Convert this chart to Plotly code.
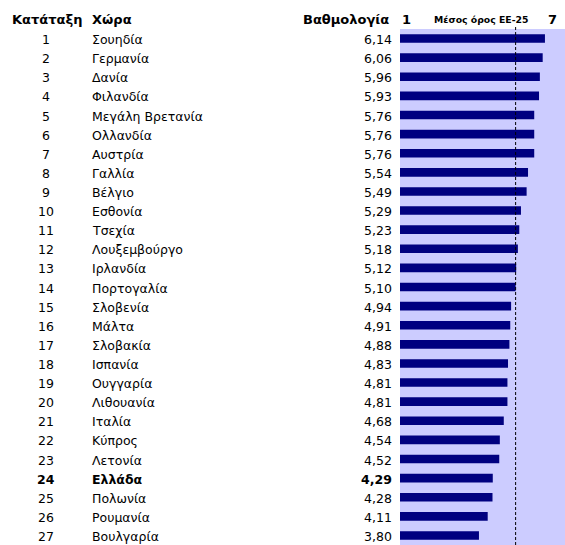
import plotly.graph_objects as go

ranks = list(range(1, 28))
countries = ["Σουηδία", "Γερμανία", "Δανία", "Φιλανδία", "Μεγάλη Βρετανία", "Ολλανδία",
             "Αυστρία", "Γαλλία", "Βέλγιο", "Εσθονία", "Τσεχία", "Λουξεμβούργο", "Ιρλανδία",
             "Πορτογαλία", "Σλοβενία", "Μάλτα", "Σλοβακία", "Ισπανία", "Ουγγαρία", "Λιθουανία",
             "Ιταλία", "Κύπρος", "Λετονία", "Ελλάδα", "Πολωνία", "Ρουμανία", "Βουλγαρία"]
scores = [6.14, 6.06, 5.96, 5.93, 5.76, 5.76, 5.76, 5.54, 5.49, 5.29, 5.23, 5.18, 5.12,
          5.10, 4.94, 4.91, 4.88, 4.83, 4.81, 4.81, 4.68, 4.54, 4.52, 4.29, 4.28, 4.11, 3.80]
eu25_avg = 5.10
highlight = "Ελλάδα"
headers = ["Κατάταξη", "Χώρα", "Βαθμολογία"]
scale_min, scale_max = 1, 7
avg_label = "Μέσος όρος ΕΕ-25"

W, H = 565, 545
FONT = "DejaVu Sans"
idx = list(range(len(countries)))

fig = go.Figure()
fig.add_trace(go.Bar(x=scores, y=idx, orientation="h", marker_color="#000080",
                     marker_line_width=0, hoverinfo="skip"))

annotations = []
for i, (r, c, s) in enumerate(zip(ranks, countries, scores)):
    b = c == highlight
    fnt = dict(family=FONT, size=12.5, color="black")
    wrap = (lambda t: f"<b>{t}</b>") if b else (lambda t: t)
    annotations.append(dict(x=46 / W, y=i, xref="paper", yref="y", text=wrap(str(r)),
                            showarrow=False, xanchor="center", yanchor="middle", font=fnt, yshift=-1))
    annotations.append(dict(x=90 / W, y=i, xref="paper", yref="y", text=wrap(c),
                            showarrow=False, xanchor="left", yanchor="middle", font=fnt, yshift=-1))
    annotations.append(dict(x=394 / W, y=i, xref="paper", yref="y",
                            text=wrap(f"{s:.2f}".replace(".", ",")),
                            showarrow=False, xanchor="right", yanchor="middle", font=fnt, yshift=-1))

hy = 1 + 9 / 516
hf = dict(family=FONT, size=13, color="black")
annotations += [
    dict(x=10 / W, y=hy, xref="paper", yref="paper", text=f"<b>{headers[0]}</b>", showarrow=False,
         xanchor="left", yanchor="middle", font=hf),
    dict(x=90 / W, y=hy, xref="paper", yref="paper", text=f"<b>{headers[1]}</b>", showarrow=False,
         xanchor="left", yanchor="middle", font=hf),
    dict(x=391 / W, y=hy, xref="paper", yref="paper", text=f"<b>{headers[2]}</b>", showarrow=False,
         xanchor="right", yanchor="middle", font=hf),
    dict(x=400 / W, y=hy, xref="paper", yref="paper", text=f"<b>{scale_min}</b>", showarrow=False,
         xanchor="left", yanchor="middle", font=hf),
    dict(x=552 / W, y=hy, xref="paper", yref="paper", text=f"<b>{scale_max}</b>", showarrow=False,
         xanchor="center", yanchor="middle", font=hf),
    dict(x=481 / W, y=hy, xref="paper", yref="paper", text=f"<b>{avg_label}</b>", showarrow=False,
         xanchor="center", yanchor="middle", font=dict(family=FONT, size=9.3, color="black")),
]

fig.add_shape(type="line", x0=eu25_avg, x1=eu25_avg, y0=0, y1=1 + 3 / 516, xref="x", yref="paper",
              line=dict(color="black", width=1, dash="3px,2px"))

px_per_unit = 28.2
left_px = 400
fig.update_layout(
    width=W, height=H,
    margin=dict(l=0, r=0, t=29, b=0),
    paper_bgcolor="white", plot_bgcolor="#CCCCFF",
    showlegend=False, bargap=0.55,
    xaxis=dict(domain=[left_px / W, 1], range=[scale_min, scale_min + (W - left_px) / px_per_unit],
               showgrid=False, zeroline=False, showticklabels=False, ticks=""),
    yaxis=dict(range=[len(idx) - 0.5, -0.5], showgrid=False, zeroline=False,
               showticklabels=False, ticks=""),
    annotations=annotations,
)
fig.write_html("out.html", config={"displayModeBar": False},
               post_script="document.body.style.margin='0';document.body.style.overflow='hidden';")
